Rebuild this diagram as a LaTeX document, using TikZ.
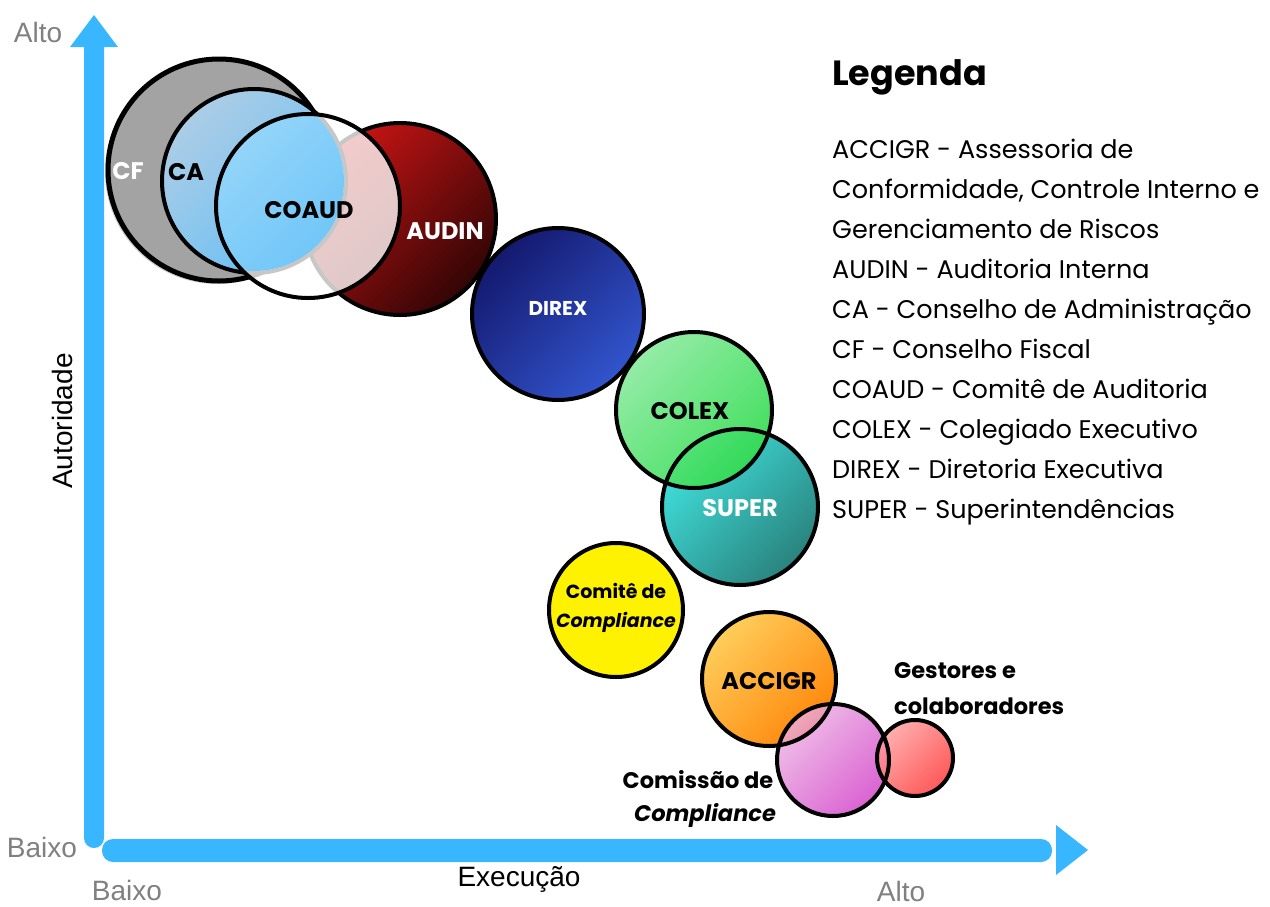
\documentclass[tikz,border=0pt]{standalone}
\usepackage{fontspec}
\setmainfont{Poppins}
\newfontfamily\axisfont{Liberation Sans}
\definecolor{axisblue}{RGB}{56,182,255}
\definecolor{axisgray}{RGB}{128,128,128}
\definecolor{cfgray}{RGB}{163,163,163}
\definecolor{cfshadow}{RGB}{205,205,205}
\definecolor{caTL}{RGB}{172,205,230}
\definecolor{caBR}{RGB}{100,190,245}
\definecolor{caTLb}{RGB}{150,215,250}
\definecolor{caBRb}{RGB}{95,192,248}
\definecolor{auTL}{RGB}{200,20,20}
\definecolor{auBR}{RGB}{50,5,5}
\definecolor{diTL}{RGB}{20,25,110}
\definecolor{diBR}{RGB}{50,85,205}
\definecolor{coTL}{RGB}{140,235,160}
\definecolor{coBR}{RGB}{50,220,80}
\definecolor{suTL}{RGB}{64,224,220}
\definecolor{suBR}{RGB}{42,130,125}
\definecolor{cyellow}{RGB}{255,242,0}
\definecolor{acTL}{RGB}{255,205,90}
\definecolor{acBR}{RGB}{255,135,10}
\definecolor{cmTL}{RGB}{235,175,225}
\definecolor{cmBR}{RGB}{210,60,200}
\definecolor{geTL}{RGB}{255,160,160}
\definecolor{geBR}{RGB}{255,60,60}
\tikzset{
  ring/.style={draw=black, line width=4pt},
  grad/.style 2 args={top color=#1, bottom color=#2, shading angle=45},
  lbl/.style={inner sep=0pt, font=\bfseries\fontsize{24}{24}\selectfont},
  lbls/.style={inner sep=0pt, font=\bfseries\fontsize{19}{19}\selectfont},
  lblm/.style={inner sep=0pt, font=\bfseries\fontsize{22.5}{22.5}\selectfont},
  legtxt/.style={anchor=base west, inner sep=0pt, font=\fontsize{25.5}{25.5}\selectfont},
  axtxt/.style={inner sep=0pt, text=axisgray, font=\axisfont\fontsize{28}{28}\selectfont},
}
\begin{document}
\begin{tikzpicture}[x=1pt,y=-1pt]
\useasboundingbox[fill=white] (0,0) rectangle (1270,906);
% axes
\fill[axisblue, rounded corners=10pt] (84,35) rectangle (104,848);
\fill[axisblue] (70,47) -- (94,15) -- (118,47) -- cycle;
\fill[axisblue, rounded corners=11pt] (102,839) rectangle (1052,862);
\fill[axisblue] (1056,825) -- (1088,850) -- (1056,875) -- cycle;
% CF
\fill[cfshadow] (217,172) circle[radius=112pt];
\fill[cfgray] (219,170) circle[radius=111pt];
\draw[ring, line width=5pt] (219,170) circle[radius=111pt];
% AUDIN
\shade[grad={auTL}{auBR}] (400,219) circle[radius=96pt];
\draw[ring] (400,219) circle[radius=96pt];
% CA
\shade[grad={caTL}{caBR}] (254,181) circle[radius=92pt];
\draw[ring] (254,181) circle[radius=92pt];
% COAUD overlay
\fill[white, fill opacity=0.78] (308,206) circle[radius=92pt];
\begin{scope}
\clip (308,206) circle[radius=92pt];
\shade[grad={caTLb}{caBRb}, fill opacity=0.85] (254,181) circle[radius=90pt];
\end{scope}
\draw[ring] (308,206) circle[radius=92pt];
% DIREX
\shade[grad={diTL}{diBR}] (558,314) circle[radius=86pt];
\draw[ring] (558,314) circle[radius=86pt];
% SUPER & COLEX
\shade[grad={suTL}{suBR}] (740,507) circle[radius=78pt];
\shade[grad={coTL}{coBR}, fill opacity=0.92] (694,410) circle[radius=78pt];
\draw[ring] (740,507) circle[radius=78pt];
\draw[ring] (694,410) circle[radius=78pt];
% Comite de Compliance
\fill[cyellow] (616,610) circle[radius=67pt];
\draw[ring] (616,610) circle[radius=67pt];
% ACCIGR, Comissao, Gestores
\shade[grad={acTL}{acBR}] (769,679) circle[radius=67pt];
\shade[grad={cmTL}{cmBR}, fill opacity=0.8] (833,760) circle[radius=56pt];
\shade[grad={geTL}{geBR}, fill opacity=0.85] (915,758) circle[radius=38pt];
\draw[ring] (769,679) circle[radius=67pt];
\draw[ring] (833,760) circle[radius=56pt];
\draw[ring] (915,758) circle[radius=38pt];
% circle labels
\node[lbl, text=white] (tcf) at (128,171) {CF};
\node[lbl] (tca) at (186,172) {CA};
\node[lbl] (tcoaud) at (309,210) {COAUD};
\node[lbl, text=white] (taudin) at (445,231) {AUDIN};
\node[lbl, text=white, font=\bfseries\fontsize{20}{20}\selectfont] (tdirex) at (558,308) {DIREX};
\node[lbl] (tcolex) at (690,411) {COLEX};
\node[lbl, text=white] (tsuper) at (740,508) {SUPER};
\node[lbl] (taccigr) at (769,681) {ACCIGR};
\node[lbls] (tcomite1) at (616,591) {Comitê de};
\node[lbls] (tcomite2) at (616,622) {\itshape Compliance};
\node[lblm] (tcomis1) at (698,780) {Comissão de};
\node[lblm] (tcomis2) at (705,815) {\itshape Compliance};
\node[lblm, anchor=west] (tgest1) at (894,671) {Gestores e};
\node[lblm, anchor=west] (tgest2) at (894,706) {colaboradores};
% legend
\node[anchor=base west, inner sep=0pt, font=\bfseries\fontsize{35}{35}\selectfont] (leg) at (832,85) {Legenda};
\node[legtxt] (l1) at (832,158) {ACCIGR - Assessoria de};
\node[legtxt] (l2) at (832,198) {Conformidade, Controle Interno e};
\node[legtxt] (l3) at (832,238) {Gerenciamento de Riscos};
\node[legtxt] (l4) at (832,278) {AUDIN - Auditoria Interna};
\node[legtxt] (l5) at (832,318) {CA - Conselho de Administração};
\node[legtxt] (l6) at (832,358) {CF - Conselho Fiscal};
\node[legtxt] (l7) at (832,398) {COAUD - Comitê de Auditoria};
\node[legtxt] (l8) at (832,438) {COLEX - Colegiado Executivo};
\node[legtxt] (l9) at (832,478) {DIREX - Diretoria Executiva};
\node[legtxt] (l10) at (832,518) {SUPER - Superintendências};
% axis labels
\node[axtxt] (altoy) at (38,32) {Alto};
\node[axtxt] (baixoy) at (42,847) {Baixo};
\node[axtxt] (baixox) at (127,890) {Baixo};
\node[axtxt] (altox) at (901,891) {Alto};
\node[axtxt, text=black] (exec) at (519,879) {Execução};
\node[axtxt, text=black, rotate=90] (aut) at (62,421) {Autoridade};
\end{tikzpicture}
\end{document}
